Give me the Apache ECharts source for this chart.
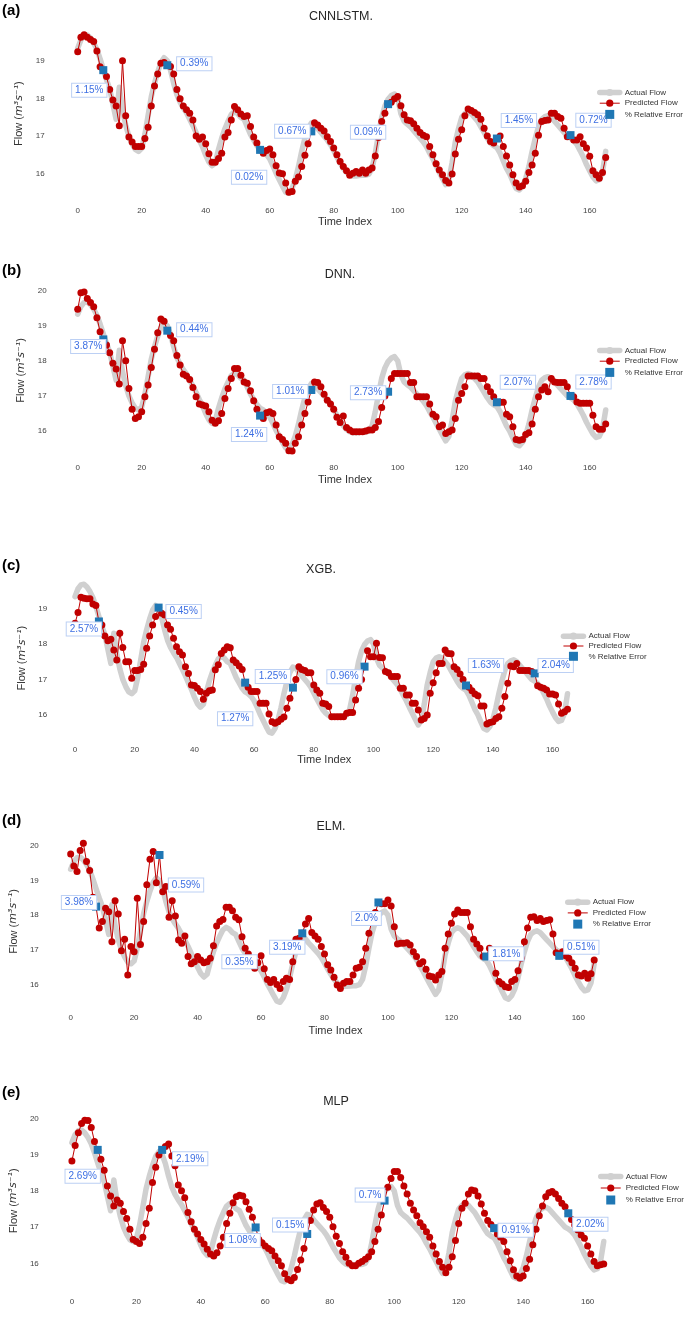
<!DOCTYPE html>
<html><head><meta charset="utf-8">
<script src="https://cdn.jsdelivr.net/npm/echarts@6/dist/echarts.min.js"></script>
<style>html,body{margin:0;padding:0;background:#fff}#c{width:685px;height:1319px}</style>
</head><body><div id="c"></div>
<script>
// ---------------- DATA ----------------
const actualFlow = [
19.33,19.55,19.66,19.68,19.60,19.47,19.30,19.05,18.77,18.50,
18.25,17.85,17.45,18.30,17.70,17.30,17.00,16.80,16.65,16.60,
16.68,17.05,17.55,18.05,18.40,18.70,18.95,19.08,19.00,18.75,
18.40,18.10,17.90,17.75,17.62,17.45,17.28,17.10,16.90,16.72,
16.50,16.32,16.22,16.30,16.65,16.95,17.20,17.40,17.58,17.65,
17.60,17.50,17.45,17.25,17.05,16.90,16.75,16.65,16.60,16.52,
16.40,16.22,16.02,15.85,15.68,15.52,15.49,15.62,15.86,16.20,
16.60,16.95,17.20,17.35,17.32,17.20,17.10,17.00,16.90,16.78,
16.62,16.45,16.30,16.15,16.05,15.98,15.95,15.95,15.96,15.97,
15.97,16.00,16.15,16.55,17.05,17.50,17.80,17.98,18.08,18.12,
18.00,17.60,17.40,17.32,17.25,17.15,17.05,16.95,16.85,16.72,
16.55,16.40,16.22,16.05,15.88,15.72,15.85,16.30,16.85,17.20,
17.50,17.60,17.64,17.60,17.50,17.40,17.25,17.10,16.95,16.82,
16.75,16.70,16.55,16.35,16.15,16.00,15.80,15.62,15.58,15.68,
15.88,16.20,16.60,16.95,17.25,17.45,17.52,17.55,17.50,17.40,
17.30,17.20,17.10,17.00,16.95,16.88,16.78,16.62,16.45,16.25,
16.08,15.92,15.82,15.85,16.05,16.60
];
const predCNNLSTM = [
19.24,19.62,19.69,19.62,19.56,19.51,19.26,18.84,18.75,18.58,
18.24,17.96,17.80,17.28,19.00,17.54,16.98,16.85,16.73,16.73,
16.73,16.94,17.24,17.80,18.33,18.65,18.93,18.95,18.88,18.85,
18.65,18.24,17.99,17.80,17.70,17.61,17.43,17.01,16.92,16.98,
16.80,16.54,16.31,16.31,16.41,16.55,16.98,17.10,17.43,17.79,
17.70,17.59,17.52,17.54,17.26,16.98,16.82,16.64,16.55,16.62,
16.66,16.51,16.22,16.03,16.01,15.76,15.52,15.54,15.81,15.92,
16.20,16.50,16.80,17.13,17.36,17.30,17.21,17.14,16.99,16.86,
16.69,16.51,16.33,16.20,16.09,15.97,16.02,16.07,16.02,16.11,
16.02,16.11,16.16,16.48,16.97,17.39,17.61,17.85,17.90,17.99,
18.05,17.81,17.57,17.43,17.41,17.33,17.21,17.10,17.03,16.99,
16.73,16.51,16.27,16.11,15.98,15.83,15.76,16.00,16.53,16.92,
17.17,17.54,17.72,17.68,17.63,17.57,17.45,17.21,17.01,16.86,
16.82,16.94,17.01,16.73,16.48,16.24,15.98,15.76,15.66,15.69,
15.81,16.04,16.24,16.55,17.03,17.39,17.42,17.43,17.61,17.61,
17.52,17.48,17.21,16.99,17.03,16.90,16.90,16.99,16.80,16.69,
16.47,16.09,15.98,15.89,16.04,16.44
];
const predDNN = [
19.47,19.94,19.96,19.78,19.66,19.54,19.23,18.83,18.61,18.45,
18.23,17.93,17.77,17.34,18.57,18.00,17.21,16.62,16.36,16.41,
16.55,16.98,17.31,17.81,18.33,18.80,19.19,19.13,18.86,18.72,
18.57,18.15,17.88,17.62,17.57,17.47,17.24,16.98,16.77,16.74,
16.71,16.55,16.31,16.22,16.29,16.50,16.93,17.21,17.50,17.78,
17.78,17.59,17.40,17.36,17.15,16.86,16.62,16.44,16.36,16.52,
16.55,16.50,16.17,15.84,15.76,15.65,15.44,15.43,15.65,15.84,
16.17,16.50,16.83,17.17,17.40,17.38,17.26,17.05,16.88,16.77,
16.62,16.39,16.24,16.43,16.10,16.03,15.98,15.98,15.98,15.98,
16.00,16.03,16.03,16.10,16.27,16.67,17.00,17.12,17.50,17.64,
17.64,17.64,17.64,17.64,17.38,17.38,16.98,16.98,16.98,16.98,
16.77,16.48,16.41,16.12,16.17,15.93,15.98,16.03,16.36,16.88,
17.07,17.26,17.57,17.57,17.57,17.57,17.50,17.50,17.26,17.12,
16.98,16.82,16.82,16.82,16.48,16.41,16.12,15.76,15.74,15.76,
15.90,15.95,16.20,16.62,16.98,17.17,17.26,17.12,17.50,17.40,
17.38,17.38,17.38,17.26,17.00,16.98,16.83,16.79,16.79,16.79,
16.79,16.45,16.12,16.05,16.05,16.20
];
const predXGB = [
18.58,18.88,19.31,19.28,19.27,19.27,19.12,19.08,18.63,18.53,
18.22,18.09,18.13,17.83,17.55,18.30,17.90,17.50,17.50,17.03,
17.25,17.25,17.28,17.43,17.88,18.22,18.53,18.77,19.02,18.86,
18.81,18.53,18.41,18.16,17.92,17.78,17.69,17.36,17.17,16.84,
16.83,16.75,16.66,16.44,16.61,16.68,16.70,17.27,17.41,17.73,
17.83,17.92,17.89,17.55,17.47,17.38,17.28,16.91,16.78,16.66,
16.66,16.66,16.33,16.33,16.33,16.03,15.81,15.77,15.81,15.88,
15.94,16.19,16.47,16.77,17.00,17.36,17.28,17.25,17.19,17.19,
16.84,16.70,16.61,16.33,16.31,16.24,15.95,15.95,15.95,15.95,
15.95,16.05,16.07,16.07,16.42,16.75,17.00,17.36,17.81,17.64,
17.64,18.02,17.62,17.61,17.22,17.19,17.08,17.08,17.08,16.75,
16.75,16.56,16.56,16.33,16.33,16.14,15.86,15.90,16.00,16.61,
16.91,17.19,17.45,17.45,17.83,17.73,17.72,17.36,17.28,17.15,
17.00,16.83,16.78,16.68,16.59,16.54,16.25,16.25,15.75,15.79,
15.81,15.90,15.95,16.19,16.52,16.89,17.38,17.36,17.45,17.25,
17.25,17.25,17.25,17.22,17.17,16.82,16.78,16.75,16.70,16.59,
16.59,16.56,16.31,16.05,16.09,16.16
];
const predELM = [
19.77,19.42,19.26,19.87,20.08,19.55,19.29,18.52,18.25,17.63,
17.82,18.20,18.10,17.24,18.42,18.04,16.98,17.31,16.28,17.10,
16.95,18.49,17.16,17.82,18.88,19.62,19.84,18.94,19.74,18.68,
18.83,17.94,18.42,17.98,17.29,17.19,17.40,16.81,16.60,16.66,
16.81,16.71,16.63,16.66,16.76,17.12,17.69,17.82,17.88,18.23,
18.23,18.13,17.94,17.87,17.38,17.05,16.88,16.63,16.47,16.63,
16.83,16.46,16.15,16.06,16.15,16.00,15.89,16.09,16.18,16.15,
16.66,17.31,17.34,17.48,17.75,17.91,17.50,17.40,17.31,17.10,
16.88,16.57,16.42,16.21,15.99,15.89,16.04,16.09,16.09,16.28,
16.47,16.50,16.66,17.05,17.48,17.87,18.08,18.37,18.33,18.33,
18.44,18.27,17.67,17.17,17.19,17.19,17.21,17.14,16.95,16.81,
16.60,16.66,16.44,16.25,16.23,16.13,16.28,16.38,17.05,17.46,
17.77,18.04,18.15,18.08,18.08,18.08,17.67,17.31,17.17,17.05,
16.81,16.81,17.05,16.81,16.33,16.09,16.02,15.94,15.92,16.09,
16.15,16.40,16.76,17.24,17.63,17.94,17.96,17.85,17.91,17.82,
17.85,17.87,17.46,16.92,16.83,16.95,16.83,16.76,16.63,16.47,
16.28,16.25,16.33,16.18,16.31,16.71
];
const predMLP = [
18.82,19.25,19.60,19.86,19.95,19.94,19.75,19.36,19.13,18.87,
18.57,18.13,17.86,17.58,17.75,17.66,17.43,17.24,16.94,16.66,
16.60,16.55,16.72,17.10,17.52,18.23,18.65,18.99,19.13,19.22,
19.29,18.96,18.69,18.16,18.00,17.81,17.40,17.15,16.94,16.81,
16.66,16.53,16.39,16.26,16.20,16.29,16.48,16.72,17.10,17.38,
17.67,17.84,17.88,17.86,17.70,17.49,17.27,16.99,16.66,16.57,
16.48,16.41,16.35,16.20,16.07,15.93,15.71,15.56,15.52,15.61,
15.83,16.09,16.41,16.81,17.18,17.47,17.64,17.67,17.54,17.43,
17.27,17.01,16.75,16.55,16.32,16.17,16.00,15.93,15.93,16.00,
16.05,16.11,16.18,16.32,16.60,16.94,17.33,17.73,18.10,18.34,
18.53,18.53,18.37,18.13,17.91,17.66,17.47,17.31,17.12,17.01,
16.87,16.72,16.48,16.26,16.05,15.89,15.74,15.89,16.18,16.63,
17.10,17.52,17.66,17.91,18.02,18.00,17.86,17.64,17.38,17.18,
17.07,16.97,16.81,16.72,16.60,16.32,16.07,15.82,15.65,15.59,
15.65,15.86,16.11,16.51,16.94,17.31,17.58,17.84,17.95,17.98,
17.91,17.79,17.66,17.56,17.38,17.21,17.06,16.92,16.78,16.69,
16.48,16.26,16.05,15.93,15.96,15.98
];
const errorIndex = [8, 28, 57, 73, 97, 131, 154];
const errCNNLSTM = ['1.15%','0.39%','0.02%','0.67%','0.09%','1.45%','0.72%'];
const errDNN     = ['3.87%','0.44%','1.24%','1.01%','2.73%','2.07%','2.78%'];
const errXGB     = ['2.57%','0.45%','1.27%','1.25%','0.96%','1.63%','2.04%'];
const errELM     = ['3.98%','0.59%','0.35%','3.19%','2.0%','1.81%','0.51%'];
const errMLP     = ['2.69%','2.19%','1.08%','0.15%','0.7%','0.91%','2.02%'];
const modelNames = ['CNNLSTM.','DNN.','XGB.','ELM.','MLP'];
const panelLetters = ['(a)','(b)','(c)','(d)','(e)'];
const xTickLabels = [0,20,40,60,80,100,120,140,160];
const yTickLabels = [16,17,18,19,20];
const legendNames = ['Actual Flow','Predicted Flow','% Relative Error'];

// ---------------- LAYOUT / STYLE ----------------
const preds = [predCNNLSTM, predDNN, predXGB, predELM, predMLP];
const errs = [errCNNLSTM, errDNN, errXGB, errELM, errMLP];
const L = [
 {left:61.7, top:28.6, width:566.4, height:170.0, ymin:15.35, ymax:19.85, ylm:17, xlm:8, xng:18, yng:26, tx:341, ty:17, ly:11, lg:[597,88.5,2.7], xname:true,
  off:[[-14,20],[27,-1.5],[-11,27.5],[-19,0],[-20,28],[22,-18],[23,-15]]},
 {left:61.7, top:285.4, width:566.4, height:170.2, ymin:15.3, ymax:20.15, ylm:15, xlm:8, xng:19, yng:26, tx:340, ty:275, ly:271, lg:[597,346.5,2.7], xname:true,
  off:[[-15,7],[27,-1],[-11,19],[-21,1.5],[-20,1],[21,-20],[23,-14]]},
 {left:60.1, top:578.1, width:528.3, height:160.0, ymin:15.35, ymax:19.85, ylm:13, xlm:7.5, xng:16.5, yng:25.5, tx:321, ty:570, ly:566, lg:[560.7,632.2,1.8], xname:true,
  off:[[-15,7.5],[25,4],[-10,36],[-20,-11],[-20,10],[20,-20],[21,-8]]},
 {left:54.1, top:837.3, width:562.3, height:168.1, ymin:15.4, ymax:20.25, ylm:16, xlm:8.5, xng:20, yng:35.5, tx:331, ty:827, ly:821, lg:[565,898.2,2.7], xname:true,
  off:[[-17,-4],[26.5,30],[-12,-1],[-15,14],[-12,16],[20,-2.7],[22,-8.5]]},
 {left:52.8, top:1112.9, width:573.5, height:175.8, ymin:15.3, ymax:20.15, ylm:17, xlm:9.5, xng:20, yng:32, tx:336, ty:1102, ly:1093, lg:[598,1172.5,3.5], xname:false,
  off:[[-15,26.5],[28,9],[-13,13],[-17,-9],[-14.5,-5.5],[21.5,2],[22,11]]}
];
const FONT = 'Liberation Sans, Arial, Helvetica, sans-serif';
const RED = '#c00000', GRAY = '#d0d0d0', BLUE = '#1f77b4';

const timeIndex = actualFlow.map((_, i) => i);
const grid = [], xAxis = [], yAxis = [], series = [], legend = [], graphic = [];

L.forEach((p, i) => {
  grid.push({left:p.left, top:p.top, width:p.width, height:p.height, containLabel:false});
  xAxis.push({
    type:'value', gridIndex:i, min:-5, max:172, splitNumber:9,
    axisLine:{show:false}, axisTick:{show:false}, splitLine:{show:false},
    axisLabel:{fontSize:8, color:'#444', margin:p.xlm, fontFamily:FONT,
      formatter: v => { const r = Math.round(v); return (Math.abs(v-r)<1e-6 && xTickLabels.includes(r)) ? String(r) : ''; }},
    name: p.xname ? 'Time Index' : '', nameLocation:'middle', nameGap:p.xng,
    nameTextStyle:{fontSize:11, color:'#333', fontFamily:FONT}
  });
  yAxis.push({
    type:'value', gridIndex:i, min:p.ymin, max:p.ymax, splitNumber:5,
    axisLine:{show:false}, axisTick:{show:false}, splitLine:{show:false},
    axisLabel:{fontSize:8, color:'#444', margin:p.ylm, fontFamily:FONT,
      formatter: v => { const r = Math.round(v); return (Math.abs(v-r)<1e-6 && yTickLabels.includes(r) && r<=p.ymax) ? String(r) : ''; }},
    name:'Flow ({it|m³s⁻¹})', nameLocation:'middle', nameGap:p.yng,
    nameTextStyle:{fontSize:11, color:'#333', fontFamily:FONT, rich:{it:{fontSize:11, fontStyle:'italic', color:'#333', fontFamily:'DejaVu Sans'}}}
  });
  series.push({
    type:'line', name:legendNames[0], xAxisIndex:i, yAxisIndex:i, z:1, silent:true,
    data: timeIndex.map(t => [t, actualFlow[t]]), symbol:'none',
    lineStyle:{color:GRAY, width:5.5, cap:'round', join:'round'}, itemStyle:{color:GRAY}
  });
  series.push({
    type:'line', name:legendNames[1], xAxisIndex:i, yAxisIndex:i, z:2,
    data: timeIndex.map(t => [t, preds[i][t]]), symbol:'circle', symbolSize:7,
    lineStyle:{color:RED, width:1}, itemStyle:{color:RED, borderWidth:0, opacity:1}
  });
  series.push({
    type:'scatter', name:legendNames[2], xAxisIndex:i, yAxisIndex:i, z:3,
    symbol:'rect', symbolSize:8, itemStyle:{color:BLUE, opacity:1},
    label:{show:true, position:'inside', fontSize:10, color:'#3d6fe3', fontFamily:FONT,
      backgroundColor:'#ffffff', borderColor:'#bcd0f4', borderWidth:1, padding:[2,3,1,3]},
    data: errorIndex.map((t, k) => ({
      value:[t, preds[i][t]],
      label:{formatter: errs[i][k], offset: p.off[k]}
    }))
  });
  legend.push({
    orient:'vertical', left:p.lg[0], top:p.lg[1], itemWidth:20, itemHeight:9, itemGap:p.lg[2],
    textStyle:{fontSize:8, color:'#333', fontFamily:FONT}, padding:0,
    lineStyle:{width:'inherit'}, itemStyle:{opacity:1}, selectedMode:false,
    data:[
      {name:legendNames[0]},
      {name:legendNames[1]},
      {name:legendNames[2], icon:'path://M0,0 L10,0 L10,10 L0,10 Z'}
    ]
  });
  graphic.push({type:'text', x:2, y:p.ly, style:{text:panelLetters[i], font:'bold 15px ' + FONT, fill:'#000',
    textAlign:'left', textVerticalAlign:'middle', align:'left', verticalAlign:'middle'}});
  graphic.push({type:'text', x:p.tx, y:p.ty, style:{text:modelNames[i], font:'12.5px ' + FONT, fill:'#262626',
    textAlign:'center', textVerticalAlign:'middle', align:'center', verticalAlign:'middle'}});
});

const chart = echarts.init(document.getElementById('c'), null, {renderer:'canvas'});
chart.setOption({
  backgroundColor:'#ffffff', animation:false,
  textStyle:{fontFamily:FONT},
  grid, xAxis, yAxis, series, legend, graphic
});
</script></body></html>
